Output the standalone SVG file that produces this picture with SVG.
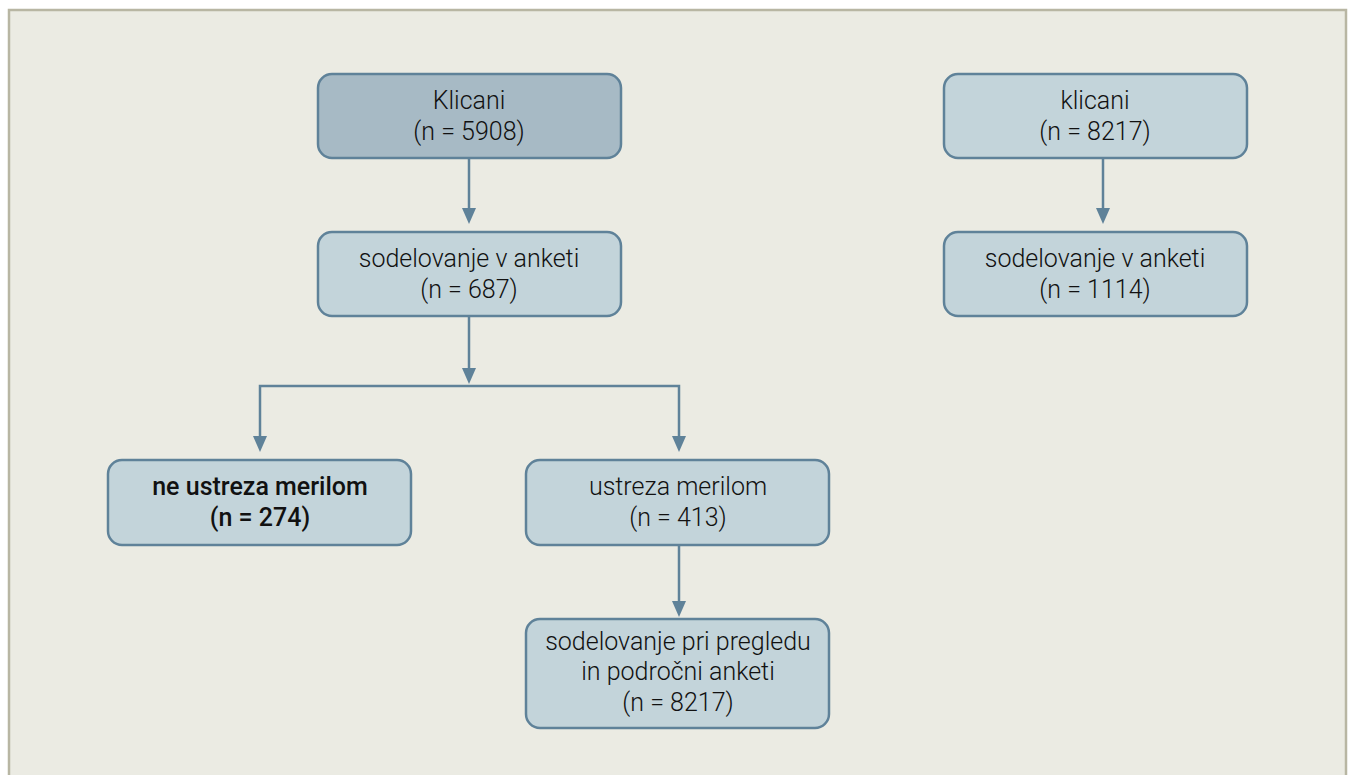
<svg xmlns="http://www.w3.org/2000/svg" width="1351" height="775" viewBox="0 0 1351 775">
<style>
.box{fill:#c3d4da;stroke:#5f8299;stroke-width:2.5}
.dark{fill:#a7bac5}
.t{font-family:Roboto,"Open Sans",sans-serif;font-size:25px;font-weight:300;fill:#111;text-anchor:middle}
.b{font-weight:500}
.c{fill:none;stroke:#5f8299;stroke-width:2.5}
</style>
<rect x="0" y="0" width="1351" height="775" fill="#ffffff"/>
<path d="M9,775 V10 H1346 V775" fill="#ebebe3" stroke="#b8b6a3" stroke-width="2.5"/>
<g id="connectors">
<path class="c" d="M469,158 V216" />
<path d="M462,208 L476,208 L469,224 Z" fill="#5f8299"/>
<path class="c" d="M469,316 V372"/>
<path d="M462,368 L476,368 L469,384 Z" fill="#5f8299"/>
<path class="c" d="M260,446 V386 H679 V446"/>
<path d="M253,436 L267,436 L260,452 Z" fill="#5f8299"/>
<path d="M672,436 L686,436 L679,452 Z" fill="#5f8299"/>
<path class="c" d="M679,545 V604"/>
<path d="M672,601 L686,601 L679,617 Z" fill="#5f8299"/>
<path class="c" d="M1103,158 V216"/>
<path d="M1096,208 L1110,208 L1103,224 Z" fill="#5f8299"/>
</g>
<g id="n1"><rect class="box dark" x="318" y="74" width="303" height="84" rx="14"/>
<text class="t" x="469" y="109">Klicani</text><text class="t" x="469" y="140">(n = 5908)</text></g>
<g id="n2"><rect class="box" x="318" y="232" width="303" height="84" rx="14"/>
<text class="t" x="469" y="267">sodelovanje v anketi</text><text class="t" x="469" y="298">(n = 687)</text></g>
<g id="n3"><rect class="box" x="108" y="460" width="303" height="85" rx="14"/>
<text class="t b" x="260" y="495">ne ustreza merilom</text><text class="t b" x="260" y="526">(n = 274)</text></g>
<g id="n4"><rect class="box" x="526" y="460" width="303" height="85" rx="14"/>
<text class="t" x="678" y="495">ustreza merilom</text><text class="t" x="678" y="526">(n = 413)</text></g>
<g id="n5"><rect class="box" x="526" y="619" width="303" height="109" rx="14"/>
<text class="t" x="678" y="650">sodelovanje pri pregledu</text><text class="t" x="678" y="680">in področni anketi</text><text class="t" x="678" y="711">(n = 8217)</text></g>
<g id="n6"><rect class="box" x="944" y="74" width="303" height="84" rx="14"/>
<text class="t" x="1095" y="109">klicani</text><text class="t" x="1095" y="140">(n = 8217)</text></g>
<g id="n7"><rect class="box" x="944" y="232" width="303" height="84" rx="14"/>
<text class="t" x="1095" y="267">sodelovanje v anketi</text><text class="t" x="1095" y="298">(n = 1114)</text></g>
</svg>
